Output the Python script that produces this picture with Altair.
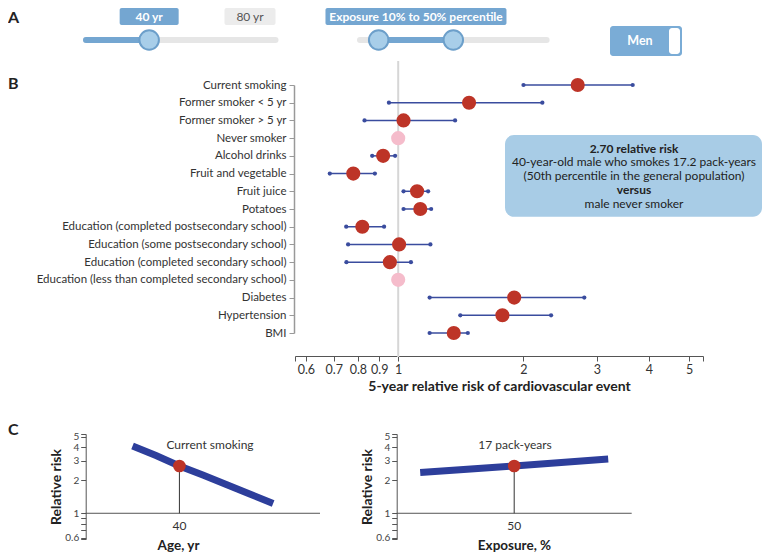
import altair as alt
import pandas as pd

FONT = "Lato"
RED = "#bd3427"
PINK = "#f5bccb"
BLUE_CI = "#3a4c9e"
CURVE = "#2d3e9b"
SL_BLUE = "#74a6d1"
KNOB_FILL = "#a8cee9"
KNOB_STROKE = "#6c9fca"
TRACK = "#e6e6e6"
BOX = "#a8cce6"

# ---------------- Panel A (controls) ----------------
age_range = [20, 80]
age_value = 40
exp_range = [0, 100]
exp_values = [10, 50]
sex_label = "Men"

# ---------------- Panel B (forest plot) ----------------
rows = [
    "Current smoking",
    "Former smoker < 5 yr",
    "Former smoker > 5 yr",
    "Never smoker",
    "Alcohol drinks",
    "Fruit and vegetable",
    "Fruit juice",
    "Potatoes",
    "Education (completed postsecondary school)",
    "Education (some postsecondary school)",
    "Education (completed secondary school)",
    "Education (less than completed secondary school)",
    "Diabetes",
    "Hypertension",
    "BMI",
]
est = [2.70, 1.48, 1.03, 1.00, 0.92, 0.78, 1.11, 1.13, 0.82, 1.005, 0.955, 1.00, 1.90, 1.78, 1.36]
ci_low = [2.00, 0.95, 0.83, None, 0.866, 0.685, 1.03, 1.03, 0.75, 0.758, 0.751, None, 1.19, 1.41, 1.19]
ci_high = [3.66, 2.22, 1.37, None, 0.983, 0.879, 1.18, 1.20, 0.925, 1.195, 1.073, None, 2.80, 2.33, 1.47]
is_ref = [False, False, False, True, False, False, False, False, False, False, False, True, False, False, False]
x_ticks = [0.6, 0.7, 0.8, 0.9, 1, 2, 3, 4, 5]
x_domain = [0.565, 5.4]
ref_value = 1
x_title = "5-year relative risk of cardiovascular event"

box_lines = [
    "2.70 relative risk",
    "40-year-old male who smokes 17.2 pack-years",
    "(50th percentile in the general population)",
    "versus",
    "male never smoker",
]
box_bold = [True, False, False, True, False]

# ---------------- Panel C (curves) ----------------
ages = [30, 35, 40, 45, 50, 55, 60]
rr_age = [4.10, 3.36, 2.70, 2.23, 1.83, 1.50, 1.23]
age_x_domain = [20, 70]
age_mark = 40
exposure = [10, 30, 50, 70, 90]
rr_exposure = [2.35, 2.52, 2.70, 2.90, 3.13]
exp_x_domain = [0, 100]
exp_mark = 50
c_y_domain = [0.58, 5.3]
c_y_ticks = [0.58, 0.6, 0.7, 0.8, 0.9, 1, 2, 3, 4, 5, 5.3]
c_y_labels = [0.6, 1, 2, 3, 4, 5]

W, H = 754, 544


def dummy():
    return pd.DataFrame({"t": [""]})


def txt(s, x, y, **kw):
    return alt.Chart(pd.DataFrame({"t": [s]})).mark_text(**kw).encode(
        text="t:N", x=alt.value(x), y=alt.value(y)
    )


def box(x0, x1, y0, y1, **kw):
    return alt.Chart(dummy()).mark_rect(**kw).encode(
        x=alt.value(x0), x2=alt.value(x1), y=alt.value(y0), y2=alt.value(y1)
    )


# ----- Panel A: age slider -----
age_df = pd.DataFrame({"lo": [age_range[0]], "hi": [age_range[1]], "val": [age_value],
                       "vlab": [f"{age_value} yr"], "hlab": [f"{age_range[1]} yr"]})
ax = alt.Scale(domain=age_range, range=[78, 267.5])
SY = 32
age_layers = alt.layer(
    alt.Chart(age_df).mark_rule(strokeWidth=6, strokeCap="round", color=TRACK).encode(
        x=alt.X("lo:Q", scale=ax, axis=None), x2="hi:Q", y=alt.value(SY)),
    alt.Chart(age_df).mark_rule(strokeWidth=6, strokeCap="round", color=SL_BLUE).encode(
        x=alt.X("lo:Q", scale=ax, axis=None), x2="val:Q", y=alt.value(SY)),
    alt.Chart(age_df).mark_circle(size=380, fill=KNOB_FILL, stroke=KNOB_STROKE, strokeWidth=2, opacity=1).encode(
        x=alt.X("val:Q", scale=ax, axis=None), y=alt.value(SY)),
    alt.Chart(age_df).mark_rect(color=SL_BLUE, xOffset=-29.5, x2Offset=29.5, cornerRadius=2).encode(
        x=alt.X("val:Q", scale=ax, axis=None), x2="val:Q", y=alt.value(0), y2=alt.value(17)),
    alt.Chart(age_df).mark_text(color="white", fontSize=12, fontWeight="bold", baseline="middle").encode(
        x=alt.X("val:Q", scale=ax, axis=None), y=alt.value(9), text="vlab:N"),
    alt.Chart(age_df).mark_rect(color="#ececec", xOffset=-51, cornerRadius=2).encode(
        x=alt.X("hi:Q", scale=ax, axis=None), x2="hi:Q", y=alt.value(0), y2=alt.value(17)),
    alt.Chart(age_df).mark_text(color="#555", fontSize=12, dx=-25.5, baseline="middle").encode(
        x=alt.X("hi:Q", scale=ax, axis=None), y=alt.value(9), text="hlab:N"),
)

# ----- Panel A: exposure slider -----
exp_df = pd.DataFrame({"lo": [exp_range[0]], "hi": [exp_range[1]],
                       "v1": [exp_values[0]], "v2": [exp_values[1]],
                       "mid": [sum(exp_values) / 2],
                       "lab": [f"Exposure {exp_values[0]}% to {exp_values[1]}% percentile"]})
knob_df = pd.DataFrame({"v": exp_values})
ex = alt.Scale(domain=exp_range, range=[352, 538.6])
exp_layers = alt.layer(
    alt.Chart(exp_df).mark_rule(strokeWidth=6, strokeCap="round", color=TRACK).encode(
        x=alt.X("lo:Q", scale=ex, axis=None), x2="hi:Q", y=alt.value(SY)),
    alt.Chart(exp_df).mark_rule(strokeWidth=6, color=SL_BLUE).encode(
        x=alt.X("v1:Q", scale=ex, axis=None), x2="v2:Q", y=alt.value(SY)),
    alt.Chart(knob_df).mark_circle(size=380, fill=KNOB_FILL, stroke=KNOB_STROKE, strokeWidth=2, opacity=1).encode(
        x=alt.X("v:Q", scale=ex, axis=None), y=alt.value(SY)),
    alt.Chart(exp_df).mark_rect(color=SL_BLUE, xOffset=-90.5, x2Offset=90.5, cornerRadius=2).encode(
        x=alt.X("mid:Q", scale=ex, axis=None), x2="mid:Q", y=alt.value(0), y2=alt.value(17)),
    alt.Chart(exp_df).mark_text(color="white", fontSize=12, fontWeight="bold", baseline="middle").encode(
        x=alt.X("mid:Q", scale=ex, axis=None), y=alt.value(9), text="lab:N"),
)

# ----- Panel A: toggle + panel letters -----
static_layers = alt.layer(
    box(602, 674, 18, 48, color="#7aacd6", cornerRadius=3),
    box(661, 672, 20, 46, color="white", cornerRadius=3),
    txt(sex_label, 632, 33, color="white", fontSize=12.5, fontWeight="bold", baseline="middle"),
    txt("A", 0, 9.5, align="left", baseline="middle", fontSize=16, fontWeight="bold", color="#222"),
    txt("B", 0, 76, align="left", baseline="middle", fontSize=16, fontWeight="bold", color="#222"),
    txt("C", 0, 422, align="left", baseline="middle", fontSize=16, fontWeight="bold", color="#222"),
)

# ----- Panel B: forest plot -----
df_b = pd.DataFrame({"row": rows, "est": est, "lo": ci_low, "hi": ci_high, "ref": is_ref})
df_ci = df_b.dropna(subset=["lo"])
bx = alt.Scale(type="log", domain=x_domain, range=[287, 695])
by = alt.Scale(type="point", domain=rows, range=[77, 325], padding=0)

xaxis_b = alt.Axis(
    orient="bottom", offset=-196, values=x_ticks + x_domain,
    labelExpr="datum.value < 0.58 || datum.value > 5.3 ? '' : format(datum.value, '~g')",
    title=x_title, titleFontSize=14, titleFontWeight="bold", titleColor="#222",
    labelFontSize=12.5, labelColor="#333", domainColor="#555", tickColor="#555",
    tickSize=5, grid=False, labelOverlap=False,
)
yaxis_b = alt.Axis(
    orient="left", offset=-286, title=None, labelLimit=330, labelFontSize=11.5,
    labelColor="#333", tickColor="#999", domainColor="#999", domainWidth=1.5,
    tickSize=5, labelPadding=3, grid=False,
)


def bX(f):
    return alt.X(f, scale=bx, axis=xaxis_b)


def bY(f):
    return alt.Y(f, scale=by, axis=yaxis_b)


panelB = alt.layer(
    alt.Chart(pd.DataFrame({"v": [ref_value]})).mark_rule(color="#d6d6d6", strokeWidth=2).encode(
        x=bX("v:Q"), y=alt.value(53), y2=alt.value(349)),
    alt.Chart(df_ci).mark_rule(color=BLUE_CI, strokeWidth=1.5).encode(
        x=bX("lo:Q"), x2="hi:Q", y=bY("row:N")),
    alt.Chart(df_ci).mark_circle(size=18, color=BLUE_CI, opacity=1).encode(
        x=bX("lo:Q"), y=bY("row:N")),
    alt.Chart(df_ci).mark_circle(size=18, color=BLUE_CI, opacity=1).encode(
        x=bX("hi:Q"), y=bY("row:N")),
    alt.Chart(df_b[df_b["ref"]]).mark_circle(size=200, color=PINK, opacity=1).encode(
        x=bX("est:Q"), y=bY("row:N")),
    alt.Chart(df_b[~df_b["ref"]]).mark_circle(size=200, color=RED, opacity=1).encode(
        x=bX("est:Q"), y=bY("row:N")),
)

# ----- Panel B: annotation box -----
box_layers = [box(497, 754, 127, 208.7, color=BOX, cornerRadius=9)]
for i, (line, bold) in enumerate(zip(box_lines, box_bold)):
    box_layers.append(txt(line, 626, 140.5 + i * 13.8, fontSize=12, baseline="middle",
                          fontWeight="bold" if bold else "normal", color="#222"))
panelBox = alt.layer(*box_layers)

# ----- Panel C -----
cy = alt.Scale(type="log", domain=c_y_domain, range=[531.2, 425.9])
ylab_expr = "indexof(" + str(c_y_labels) + ", datum.value) >= 0 ? format(datum.value, '~g') : ''"


def c_panel(xs, ys, x_domain_c, x_range, mark_x, label, annot, annot_xy, xtitle, xtitle_x, y_axis_x):
    sx = alt.Scale(domain=x_domain_c, range=x_range)
    curve = pd.DataFrame({"x": xs, "rr": ys})
    base = pd.DataFrame({"x0": [x_domain_c[0]], "x1": [x_domain_c[1]], "one": [1]})
    pt = pd.DataFrame({"x": [mark_x], "rr": [ys[xs.index(mark_x)]], "one": [1], "lab": [label]})
    yaxis = alt.Axis(
        orient="left", offset=-y_axis_x, values=c_y_ticks, labelExpr=ylab_expr,
        title="Relative risk", titleX=-29, titleY=478.5, titleBaseline="middle",
        titleFontSize=14, titleFontWeight="bold", titleColor="#222",
        labelFontSize=10, labelColor="#444", domainColor="#555", tickColor="#555",
        tickSize=5, grid=False, labelOverlap=False,
    )
    xaxis = alt.Axis(
        orient="bottom", offset=0, labels=False, ticks=False, domain=False, grid=False,
        title=xtitle, titleX=xtitle_x, titleY=-7, titleBaseline="middle",
        titleFontSize=13.5, titleFontWeight="bold", titleColor="#222",
    )

    def cX(f):
        return alt.X(f, scale=sx, axis=xaxis)

    def cY(f):
        return alt.Y(f, scale=cy, axis=yaxis)

    return alt.layer(
        alt.Chart(base).mark_rule(color="#555", strokeWidth=1).encode(
            x=cX("x0:Q"), x2="x1:Q", y=cY("one:Q")),
        alt.Chart(pt).mark_rule(color="#333", strokeWidth=1).encode(
            x=cX("x:Q"), y=cY("one:Q"), y2="rr:Q"),
        alt.Chart(curve).mark_line(color=CURVE, strokeWidth=7).encode(
            x=cX("x:Q"), y=cY("rr:Q")),
        alt.Chart(pt).mark_circle(size=160, color=RED, opacity=1).encode(
            x=cX("x:Q"), y=cY("rr:Q")),
        alt.Chart(pt).mark_text(fontSize=12, color="#333", dy=13, baseline="middle").encode(
            x=cX("x:Q"), y=cY("one:Q"), text="lab:N"),
        txt(annot, annot_xy[0], annot_xy[1], fontSize=12, color="#333", baseline="middle"),
    )


panelC1 = c_panel(ages, rr_age, age_x_domain, [77.7, 312], age_mark, str(age_mark),
                  "Current smoking", (202, 437), "Age, yr", 170, 77.7)
panelC2 = c_panel(exposure, rr_exposure, exp_x_domain, [388.7, 623.7], exp_mark, str(exp_mark),
                  "17 pack-years", (507, 437), "Exposure, %", 506, 388.7)

chart = alt.layer(
    age_layers, exp_layers, static_layers, panelB, panelBox, panelC1, panelC2
).resolve_scale(
    x="independent", y="independent"
).properties(
    width=W, height=H, padding=0, autosize=alt.AutoSizeParams(type="none")
).configure(
    font=FONT
).configure_view(
    stroke=None
).configure_axis(
    grid=False, labelFont=FONT, titleFont=FONT
).configure_text(
    font=FONT
)

chart.save("out.html", embed_options={"renderer": "svg", "actions": False})
